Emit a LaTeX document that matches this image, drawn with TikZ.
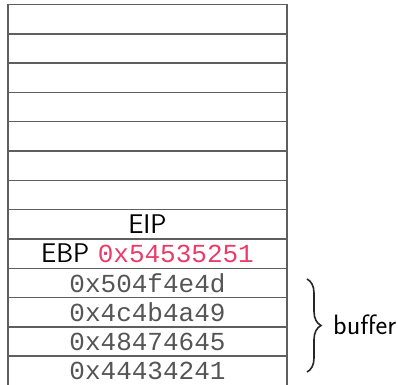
\documentclass[tikz,border=0pt]{standalone}
\usepackage{fontspec}
\setmonofont{Liberation Mono}
\usetikzlibrary{decorations.pathreplacing}
\definecolor{hexpink}{RGB}{235,60,105}
\definecolor{linegray}{RGB}{95,95,95}
\definecolor{monogray}{RGB}{85,85,85}
\begin{document}
\begin{tikzpicture}[x=1pt,y=-1pt,
  cell/.style={draw=linegray,line width=1.4pt,minimum width=279pt,minimum height=29.3pt,inner sep=0pt,
    font=\sffamily\fontsize{27}{30}\selectfont},
  hex/.style={font=\ttfamily\fontsize{26}{30}\selectfont,text=monogray}]
\useasboundingbox (0,0) rectangle (398,384);
\foreach \i in {1,...,7}{
  \node[cell] (r\i) at (147.5,{4.5+(\i-0.5)*29.3}) {};
}
\node[cell] (r8) at (147.5,{4.5+7.5*29.3}) {EIP};
\node[cell] (r9) at (147.5,{4.5+8.5*29.3}) {EBP {\ttfamily\fontsize{26}{30}\selectfont\color{hexpink}0x54535251}};
\node[cell,hex] (r10) at (147.5,{4.5+9.5*29.3}) {0x504f4e4d};
\node[cell,hex] (r11) at (147.5,{4.5+10.5*29.3}) {0x4c4b4a49};
\node[cell,hex] (r12) at (147.5,{4.5+11.5*29.3}) {0x48474645};
\node[cell,hex] (r13) at (147.5,{4.5+12.5*29.3}) {0x44434241};
\coordinate (bt) at (307,279);
\coordinate (bb) at (307,372);
\draw[line width=1.6pt,color=black!85,decorate,decoration={brace,amplitude=14pt}] (bt) -- (bb);
\node[font=\sffamily\fontsize{28}{30}\selectfont,anchor=west,inner sep=0pt] (buf) at (333,325) {buffer};
\end{tikzpicture}
\end{document}
